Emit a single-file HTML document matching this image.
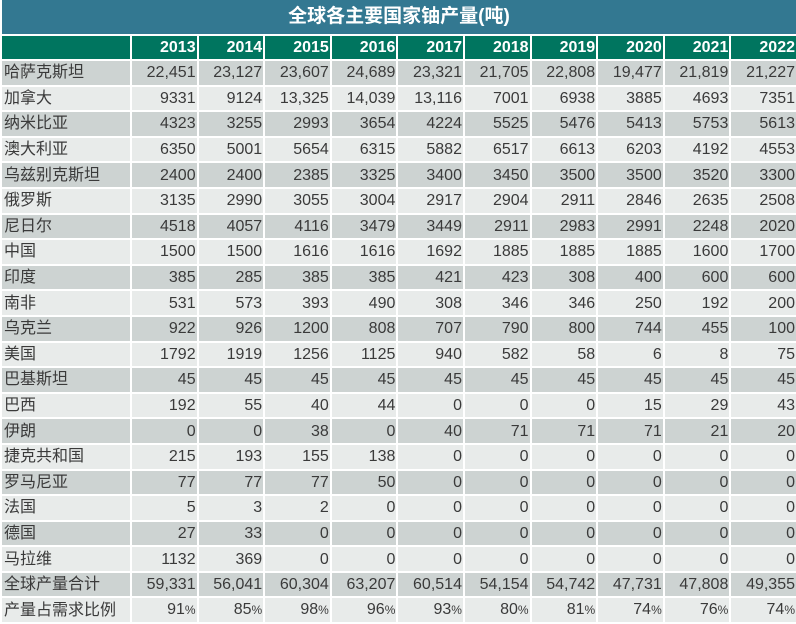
<!DOCTYPE html>
<html><head><meta charset="utf-8"><style>
body{margin:0;width:796px;height:624px;overflow:hidden;background:#fff;font-family:"Liberation Sans Narrow","Liberation Sans","Noto Sans CJK SC",sans-serif;}
.t{position:absolute;left:2px;top:0;width:794px;height:34px;background:#337891;color:#fff;font:bold 19px "Liberation Sans","Noto Sans CJK SC",sans-serif;text-align:center;line-height:34px;}
table{position:absolute;left:0;top:34px;width:798px;table-layout:fixed;border-collapse:separate;border-spacing:2px;}
td{height:23.6px;padding:0 1px;text-align:right;font-size:16px;color:#3a3a3a;white-space:nowrap;overflow:hidden;line-height:23px}
td:first-child{text-align:left;font-family:"Liberation Sans","Noto Sans CJK SC",sans-serif;font-size:16px;padding-left:2px}
tr.h td{background:#00755f;color:#fff;font-weight:bold;font-family:"Liberation Sans",sans-serif;font-size:16px;height:23px}
tr:nth-child(even) td{background:#cdd3d2}
tr:nth-child(odd):not(.h) td{background:#e8ebea}
small{font-size:12px}
</style></head><body>
<div class="t">全球各主要国家铀产量(吨)</div>
<table>
<colgroup><col style="width:128px"><col span="10"></colgroup>
<tr class="h"><td></td><td>2013</td><td>2014</td><td>2015</td><td>2016</td><td>2017</td><td>2018</td><td>2019</td><td>2020</td><td>2021</td><td>2022</td></tr>
<tr><td>哈萨克斯坦</td><td>22,451</td><td>23,127</td><td>23,607</td><td>24,689</td><td>23,321</td><td>21,705</td><td>22,808</td><td>19,477</td><td>21,819</td><td>21,227</td></tr>
<tr><td>加拿大</td><td>9331</td><td>9124</td><td>13,325</td><td>14,039</td><td>13,116</td><td>7001</td><td>6938</td><td>3885</td><td>4693</td><td>7351</td></tr>
<tr><td>纳米比亚</td><td>4323</td><td>3255</td><td>2993</td><td>3654</td><td>4224</td><td>5525</td><td>5476</td><td>5413</td><td>5753</td><td>5613</td></tr>
<tr><td>澳大利亚</td><td>6350</td><td>5001</td><td>5654</td><td>6315</td><td>5882</td><td>6517</td><td>6613</td><td>6203</td><td>4192</td><td>4553</td></tr>
<tr><td>乌兹别克斯坦</td><td>2400</td><td>2400</td><td>2385</td><td>3325</td><td>3400</td><td>3450</td><td>3500</td><td>3500</td><td>3520</td><td>3300</td></tr>
<tr><td>俄罗斯</td><td>3135</td><td>2990</td><td>3055</td><td>3004</td><td>2917</td><td>2904</td><td>2911</td><td>2846</td><td>2635</td><td>2508</td></tr>
<tr><td>尼日尔</td><td>4518</td><td>4057</td><td>4116</td><td>3479</td><td>3449</td><td>2911</td><td>2983</td><td>2991</td><td>2248</td><td>2020</td></tr>
<tr><td>中国</td><td>1500</td><td>1500</td><td>1616</td><td>1616</td><td>1692</td><td>1885</td><td>1885</td><td>1885</td><td>1600</td><td>1700</td></tr>
<tr><td>印度</td><td>385</td><td>285</td><td>385</td><td>385</td><td>421</td><td>423</td><td>308</td><td>400</td><td>600</td><td>600</td></tr>
<tr><td>南非</td><td>531</td><td>573</td><td>393</td><td>490</td><td>308</td><td>346</td><td>346</td><td>250</td><td>192</td><td>200</td></tr>
<tr><td>乌克兰</td><td>922</td><td>926</td><td>1200</td><td>808</td><td>707</td><td>790</td><td>800</td><td>744</td><td>455</td><td>100</td></tr>
<tr><td>美国</td><td>1792</td><td>1919</td><td>1256</td><td>1125</td><td>940</td><td>582</td><td>58</td><td>6</td><td>8</td><td>75</td></tr>
<tr><td>巴基斯坦</td><td>45</td><td>45</td><td>45</td><td>45</td><td>45</td><td>45</td><td>45</td><td>45</td><td>45</td><td>45</td></tr>
<tr><td>巴西</td><td>192</td><td>55</td><td>40</td><td>44</td><td>0</td><td>0</td><td>0</td><td>15</td><td>29</td><td>43</td></tr>
<tr><td>伊朗</td><td>0</td><td>0</td><td>38</td><td>0</td><td>40</td><td>71</td><td>71</td><td>71</td><td>21</td><td>20</td></tr>
<tr><td>捷克共和国</td><td>215</td><td>193</td><td>155</td><td>138</td><td>0</td><td>0</td><td>0</td><td>0</td><td>0</td><td>0</td></tr>
<tr><td>罗马尼亚</td><td>77</td><td>77</td><td>77</td><td>50</td><td>0</td><td>0</td><td>0</td><td>0</td><td>0</td><td>0</td></tr>
<tr><td>法国</td><td>5</td><td>3</td><td>2</td><td>0</td><td>0</td><td>0</td><td>0</td><td>0</td><td>0</td><td>0</td></tr>
<tr><td>德国</td><td>27</td><td>33</td><td>0</td><td>0</td><td>0</td><td>0</td><td>0</td><td>0</td><td>0</td><td>0</td></tr>
<tr><td>马拉维</td><td>1132</td><td>369</td><td>0</td><td>0</td><td>0</td><td>0</td><td>0</td><td>0</td><td>0</td><td>0</td></tr>
<tr><td>全球产量合计</td><td>59,331</td><td>56,041</td><td>60,304</td><td>63,207</td><td>60,514</td><td>54,154</td><td>54,742</td><td>47,731</td><td>47,808</td><td>49,355</td></tr>
<tr><td>产量占需求比例</td><td>91<small>%</small></td><td>85<small>%</small></td><td>98<small>%</small></td><td>96<small>%</small></td><td>93<small>%</small></td><td>80<small>%</small></td><td>81<small>%</small></td><td>74<small>%</small></td><td>76<small>%</small></td><td>74<small>%</small></td></tr>
</table>
</body></html>
